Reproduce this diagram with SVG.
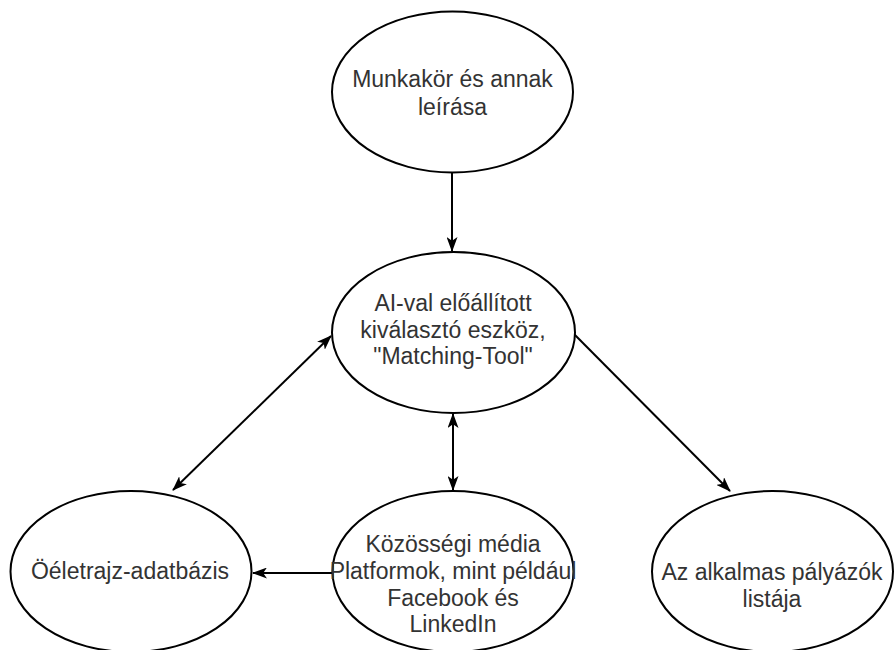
<svg xmlns="http://www.w3.org/2000/svg" width="894" height="650" viewBox="0 0 894 650">
<style>
.node ellipse{fill:#fff;stroke:#000;stroke-width:2}
.node text{font-family:"Liberation Sans",Arial,sans-serif;font-size:23px;fill:#333;text-anchor:middle}
.conn line{stroke:#000;stroke-width:2;fill:none}
</style>
<defs>
<marker id="arr" viewBox="0 0 15 11" refX="14" refY="5.5" markerWidth="15" markerHeight="11" markerUnits="userSpaceOnUse" orient="auto-start-reverse">
<path d="M0,0 L15,5.5 L0,11 L3.8,5.5 z" fill="#000"/>
</marker>
</defs>
<rect width="894" height="650" fill="#fff"/>
<g id="connectors" class="conn">
<line x1="452" y1="173" x2="452" y2="251" marker-end="url(#arr)"/>
<line x1="453" y1="414" x2="453" y2="490" marker-start="url(#arr)" marker-end="url(#arr)"/>
<line x1="331" y1="336" x2="173" y2="490" marker-start="url(#arr)" marker-end="url(#arr)"/>
<line x1="573" y1="333" x2="730" y2="491" marker-end="url(#arr)"/>
<line x1="332" y1="573" x2="253" y2="573" marker-end="url(#arr)"/>
</g>
<g id="munkakor" class="node">
<ellipse cx="452.5" cy="92" rx="120.5" ry="80.5"/>
<text x="452.5" y="87">Munkakör és annak</text>
<text x="452.5" y="115">leírása</text>
</g>
<g id="matching" class="node">
<ellipse cx="453.5" cy="332.5" rx="121.5" ry="80.5"/>
<text x="453" y="311">AI-val előállított</text>
<text x="453" y="337.5">kiválasztó eszköz,</text>
<text x="453" y="364">"Matching-Tool"</text>
</g>
<g id="oneletrajz" class="node">
<ellipse cx="131" cy="571.5" rx="120.5" ry="80.5"/>
<text x="130" y="579">Öéletrajz-adatbázis</text>
</g>
<g id="kozossegi" class="node">
<ellipse cx="453" cy="571.5" rx="120.5" ry="80.5"/>
<text x="453" y="552">Közösségi média</text>
<text x="453" y="579">Platformok, mint például</text>
<text x="453" y="605.5">Facebook és</text>
<text x="453" y="632">LinkedIn</text>
</g>
<g id="palyazok" class="node">
<ellipse cx="772.5" cy="571.5" rx="120.5" ry="80.5"/>
<text x="772" y="580">Az alkalmas pályázók</text>
<text x="772" y="607">listája</text>
</g>
</svg>
